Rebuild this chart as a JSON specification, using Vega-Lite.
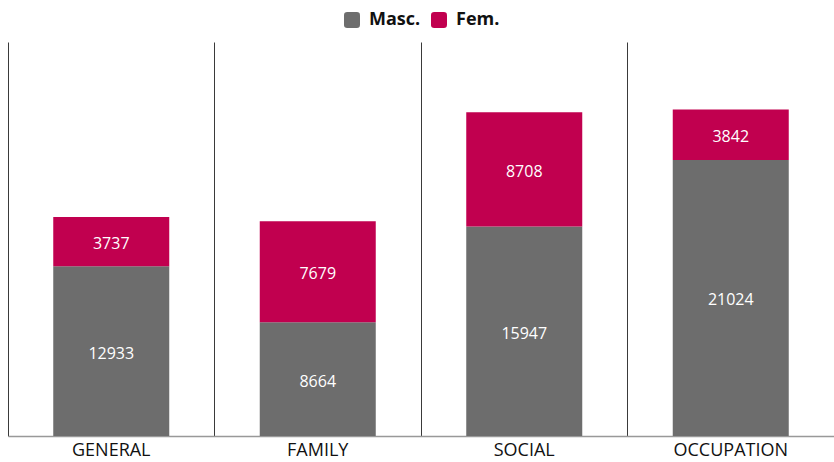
{
  "$schema": "https://vega.github.io/schema/vega-lite/v6.json",
  "width": 826,
  "height": 394,
  "autosize": {"type": "none"},
  "padding": {"left": 8, "top": 42, "right": 0, "bottom": 26},
  "background": "white",
  "config": {
    "view": {"stroke": null},
    "font": "Open Sans"
  },
  "data": {
    "values": [
      {"cat": "GENERAL", "sex": "Masc.", "ord": 0, "value": 12933},
      {"cat": "GENERAL", "sex": "Fem.", "ord": 1, "value": 3737},
      {"cat": "FAMILY", "sex": "Masc.", "ord": 0, "value": 8664},
      {"cat": "FAMILY", "sex": "Fem.", "ord": 1, "value": 7679},
      {"cat": "SOCIAL", "sex": "Masc.", "ord": 0, "value": 15947},
      {"cat": "SOCIAL", "sex": "Fem.", "ord": 1, "value": 8708},
      {"cat": "OCCUPATION", "sex": "Masc.", "ord": 0, "value": 21024},
      {"cat": "OCCUPATION", "sex": "Fem.", "ord": 1, "value": 3842}
    ]
  },
  "transform": [
    {"stack": "value", "groupby": ["cat"], "sort": [{"field": "ord", "order": "ascending"}], "as": ["y0", "y1"]},
    {"calculate": "(datum.y0 + datum.y1) / 2", "as": "ymid"}
  ],
  "encoding": {
    "x": {
      "field": "cat",
      "type": "nominal",
      "sort": ["GENERAL", "FAMILY", "SOCIAL", "OCCUPATION"],
      "scale": {"paddingInner": 0, "paddingOuter": 0},
      "axis": {
        "title": null,
        "labelAngle": 0,
        "labelFontSize": 18,
        "labelColor": "#111111",
        "labelPadding": 5,
        "ticks": false,
        "domainColor": "#999999",
        "domainWidth": 1.5,
        "grid": true,
        "gridColor": "#3a3a3a",
        "gridWidth": 1,
        "bandPosition": 0
      }
    }
  },
  "layer": [
    {
      "mark": {"type": "bar", "width": 116},
      "encoding": {
        "y": {"field": "y1", "type": "quantitative", "scale": {"domain": [0, 30000]}, "axis": null},
        "y2": {"field": "y0"},
        "color": {
          "field": "sex",
          "type": "nominal",
          "scale": {"domain": ["Masc.", "Fem."], "range": ["#6d6d6d", "#c1004f"]},
          "legend": {
            "title": null,
            "orient": "none",
            "legendX": 335,
            "legendY": -31,
            "direction": "horizontal",
            "columns": 2,
            "symbolType": "M-1,-0.6Q-1,-1,-0.6,-1L0.6,-1Q1,-1,1,-0.6L1,0.6Q1,1,0.6,1L-0.6,1Q-1,1,-1,0.6Z",
            "symbolSize": 256,
            "symbolOpacity": 1,
            "symbolStrokeWidth": 0,
            "labelFontSize": 18,
            "labelFontWeight": "bold",
            "labelColor": "#111111",
            "labelOffset": 8,
            "columnPadding": 9
          }
        }
      }
    },
    {
      "mark": {"type": "text", "color": "white", "fontSize": 16, "baseline": "middle", "align": "center", "dy": 2.5},
      "encoding": {
        "y": {"field": "ymid", "type": "quantitative", "scale": {"domain": [0, 30000]}},
        "text": {"field": "value", "type": "quantitative", "format": "d"}
      }
    }
  ]
}
